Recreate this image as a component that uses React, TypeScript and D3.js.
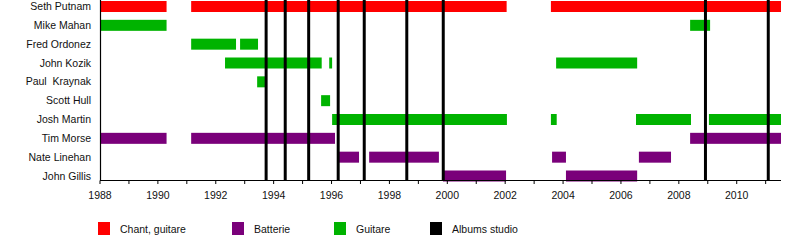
import React from "react";
import * as d3 from "d3";

const members = [
  "Seth Putnam", "Mike Mahan", "Fred Ordonez", "John Kozik", "Paul  Kraynak",
  "Scott Hull", "Josh Martin", "Tim Morse", "Nate Linehan", "John Gillis",
];

// [member, start, end, role]
const periods: [string, number, number, string][] = [
  ["Seth Putnam", 1988.0, 1990.3, "vocal"],
  ["Seth Putnam", 1991.15, 2002.05, "vocal"],
  ["Seth Putnam", 2003.58, 2011.53, "vocal"],
  ["Mike Mahan", 1988.0, 1990.3, "guitar"],
  ["Mike Mahan", 2008.39, 2009.08, "guitar"],
  ["Fred Ordonez", 1991.15, 1992.7, "guitar"],
  ["Fred Ordonez", 1992.84, 1993.46, "guitar"],
  ["John Kozik", 1992.32, 1995.66, "guitar"],
  ["John Kozik", 1995.92, 1996.02, "guitar"],
  ["John Kozik", 2003.76, 2006.56, "guitar"],
  ["Paul  Kraynak", 1993.43, 1993.7, "guitar"],
  ["Scott Hull", 1995.64, 1995.95, "guitar"],
  ["Josh Martin", 1996.02, 2002.06, "guitar"],
  ["Josh Martin", 2003.58, 2003.78, "guitar"],
  ["Josh Martin", 2006.52, 2008.42, "guitar"],
  ["Josh Martin", 2009.04, 2011.53, "guitar"],
  ["Tim Morse", 1988.0, 1990.3, "drums"],
  ["Tim Morse", 1991.15, 1996.12, "drums"],
  ["Tim Morse", 2008.39, 2011.53, "drums"],
  ["Nate Linehan", 1996.26, 1996.95, "drums"],
  ["Nate Linehan", 1997.3, 1999.71, "drums"],
  ["Nate Linehan", 2003.62, 2004.1, "drums"],
  ["Nate Linehan", 2006.62, 2007.73, "drums"],
  ["John Gillis", 1999.85, 2002.03, "drums"],
  ["John Gillis", 2004.1, 2006.56, "drums"],
];

const albums = [1993.74, 1994.4, 1995.21, 1996.23, 1997.13, 1998.6, 1999.86, 2008.92, 2011.09];

const legendItems = [
  { key: "vocal", label: "Chant, guitare" },
  { key: "drums", label: "Batterie" },
  { key: "guitar", label: "Guitare" },
  { key: "album", label: "Albums studio" },
];
const legendX = [98, 232, 334, 430];

const colors: Record<string, string> = {
  vocal: "#ff0000",
  guitar: "#00b300",
  drums: "#7a007a",
  album: "#000000",
};

const majorTicks = d3.range(1988, 2011, 2);
const minorTicks = d3.range(1988, 2012, 1);

export default function App() {
  const W = 800, H = 240;
  const x = d3.scaleLinear().domain([1988, 2011.53]).range([100, 781]);
  const yIdx = d3.scaleLinear().domain([0, members.length - 1]).range([6.5, 176]);
  const y = (m: string) => yIdx(members.indexOf(m));
  const barH = 11;
  const axisY = 180.5;
  const font = "'Liberation Sans', Arial, sans-serif";
  return (
    <svg width={W} height={H} style={{ position: "absolute", left: 0, top: 0, background: "#fff" }}
      fontFamily={font}>
      {periods.map(([m, s, e, r], i) => (
        <rect key={i} x={x(s)} y={y(m) - barH / 2} width={x(e) - x(s)} height={barH} fill={colors[r]} />
      ))}
      {albums.map((a, i) => (
        <line key={i} x1={x(a)} x2={x(a)} y1={0} y2={axisY} stroke="#000" strokeWidth={3} />
      ))}
      <line x1={100.5} x2={100.5} y1={0} y2={axisY} stroke="#000" strokeWidth={1.2} />
      <line x1={100} x2={781} y1={axisY} y2={axisY} stroke="#000" strokeWidth={1.2} />
      {minorTicks.map((t) => (
        <line key={t} x1={x(t)} x2={x(t)} y1={axisY} y2={axisY + 3.5} stroke="#000" strokeWidth={1} />
      ))}
      {majorTicks.map((t) => (
        <text key={t} x={x(t)} y={199} textAnchor="middle" fontSize={10.5} fill="#111">{t}</text>
      ))}
      {members.map((m) => (
        <text key={m} x={91} y={y(m) + 3.6} textAnchor="end" fontSize={10.5} fill="#111"
          style={{ whiteSpace: "pre" }}>{m}</text>
      ))}
      {legendItems.map((l, i) => (
        <g key={l.key}>
          <rect x={legendX[i]} y={222} width={12} height={13} fill={colors[l.key]} />
          <text x={legendX[i] + 22} y={232.5} fontSize={10.5} fill="#111">{l.label}</text>
        </g>
      ))}
    </svg>
  );
}
